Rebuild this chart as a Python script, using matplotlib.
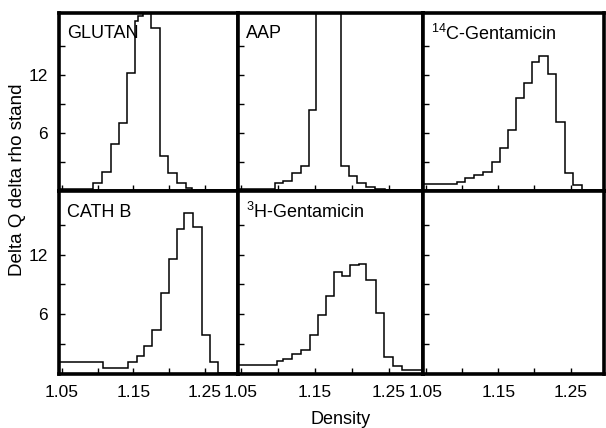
"""
Density gradient histograms, 2x3 panel figure.
"""
import matplotlib
matplotlib.use("Agg")
import matplotlib.pyplot as plt

plt.rcParams["font.family"] = ["Liberation Sans", "DejaVu Sans"]
plt.rcParams["mathtext.fontset"] = "custom"
plt.rcParams["mathtext.rm"] = "Liberation Sans"
plt.rcParams["mathtext.it"] = "Liberation Sans:italic"

# bin edges (density) and heights
glutan_edges = [1.046, 1.094, 1.106, 1.119, 1.130, 1.141, 1.152, 1.156, 1.163,
                1.175, 1.187, 1.198, 1.211, 1.223, 1.232, 1.296]
glutan_vals = [0.2, 0.8, 2.0, 4.9, 7.0, 12.2, 17.6, 18.1, 20.0, 16.9, 3.6,
               1.9, 0.8, 0.3, 0.1]

aap_edges = [1.046, 1.096, 1.107, 1.119, 1.131, 1.142, 1.151, 1.185, 1.196,
             1.207, 1.219, 1.231, 1.245, 1.296]
aap_vals = [0.2, 0.8, 1.0, 1.9, 2.6, 8.4, 20.0, 2.6, 1.6, 0.8, 0.4, 0.2, 0.1]

c14_edges = [1.046, 1.0925, 1.104, 1.117, 1.1285, 1.141, 1.1524, 1.163, 1.1744,
             1.186, 1.196, 1.2066, 1.219, 1.2297, 1.242, 1.2536, 1.265, 1.296]
c14_vals = [0.72, 0.96, 1.31, 1.65, 2.0, 3.03, 4.42, 6.31, 9.59, 11.14, 13.37,
            13.99, 12.07, 7.17, 1.83, 0.62, 0.1]

cathb_edges = [1.046, 1.1075, 1.1424, 1.155, 1.165, 1.176, 1.1885, 1.1996,
               1.211, 1.2206, 1.233, 1.2457, 1.257, 1.268, 1.296]
cathb_vals = [1.23, 0.6, 1.2, 1.8, 2.8, 4.4, 8.1, 11.6, 14.6, 16.2, 14.8, 3.9,
              1.2, 0.1]

h3_edges = [1.046, 1.099, 1.107, 1.119, 1.1315, 1.143, 1.154, 1.165, 1.176,
            1.187, 1.198, 1.209, 1.219, 1.232, 1.243, 1.2555, 1.267, 1.296]
h3_vals = [0.9, 1.27, 1.5, 2.0, 2.43, 3.9, 5.93, 7.83, 10.23, 9.9, 10.93,
           11.07, 9.5, 6.17, 1.67, 0.83, 0.4]

panel_titles = ["GLUTAN", "AAP", r"$^{14}$C-Gentamicin",
                "CATH B", r"$^{3}$H-Gentamicin", None]
panel_data = [(glutan_edges, glutan_vals), (aap_edges, aap_vals),
              (c14_edges, c14_vals), (cathb_edges, cathb_vals),
              (h3_edges, h3_vals), None]

x_ticks = [1.05, 1.10, 1.15, 1.20, 1.25]
x_ticklabels = ["1.05", "", "1.15", "", "1.25"]
y_ticks = [3, 6, 9, 12, 15]
y_ticklabels = ["", "6", "", "12", ""]

W, H = 606, 428
fig = plt.figure(figsize=(W / 100, H / 100), dpi=100)
gs = fig.add_gridspec(
    2, 3,
    left=59 / W, right=604 / W, top=1 - 13 / H, bottom=1 - 374 / H,
    wspace=0, hspace=0,
    width_ratios=[179, 185, 181], height_ratios=[178, 183],
)

for k in range(6):
    row, col = divmod(k, 3)
    ax = fig.add_subplot(gs[row, col])
    if panel_data[k] is not None:
        edges, vals = panel_data[k]
        ax.stairs(vals, edges, baseline=None, color="black", linewidth=1.1)
    ax.set_xlim(1.046, 1.296)
    ax.set_ylim(0, 18.4)
    for sp in ax.spines.values():
        sp.set_linewidth(2.6)
    ax.set_xticks(x_ticks)
    ax.set_yticks(y_ticks)
    ax.tick_params(direction="in", length=4, width=1, labelsize=12.5, pad=8)
    if row == 1:
        ax.set_xticklabels(x_ticklabels)
    else:
        ax.set_xticklabels([])
    if col == 0:
        ax.set_yticklabels(y_ticklabels)
    else:
        ax.set_yticklabels([])
    if panel_titles[k] is not None:
        ax.text(0.045, 0.885, panel_titles[k], transform=ax.transAxes,
                fontsize=13, ha="left", va="center")

fig.text(341 / W, 1 - 420 / H, "Density", ha="center", va="center", fontsize=13)
fig.text(18 / W, 1 - 180 / H, "Delta Q delta rho stand", rotation=90,
         ha="center", va="center", fontsize=13.5)

fig.savefig("out.png", dpi=100)
